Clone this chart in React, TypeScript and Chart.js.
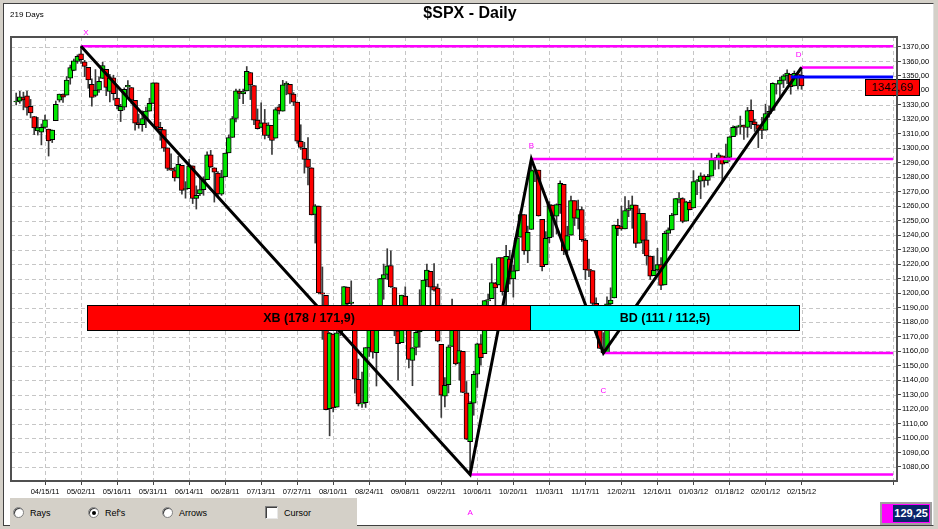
import React, { useEffect, useRef } from "react";
import { Chart, registerables } from "chart.js";
Chart.register(...registerables);

// ---- data (S&P 500 daily, 04/05/11 .. 02/15/12, 219 sessions) ----
const opens = [
  1332.0, 1332.6, 1335.0, 1336.2, 1329.0, 1322.0, 1312.0, 1311.1, 1314.5, 1313.3,
  1306.0, 1319.1, 1333.2, 1337.1, 1336.8, 1348.4, 1353.9, 1360.1, 1365.2, 1359.8,
  1355.9, 1344.2, 1336.5, 1340.2, 1348.3, 1354.5, 1339.4, 1348.7, 1334.8, 1326.1,
  1328.5, 1342.4, 1342.0, 1333.1, 1317.7, 1316.4, 1320.6, 1325.7, 1331.1, 1345.2,
  1314.6, 1312.9, 1300.3, 1286.3, 1284.6, 1279.6, 1288.3, 1271.6, 1272.2, 1287.9,
  1265.5, 1268.6, 1271.5, 1278.4, 1295.5, 1286.6, 1283.0, 1268.4, 1280.2, 1296.9,
  1307.6, 1320.6, 1339.6, 1337.6, 1339.6, 1352.4, 1343.3, 1319.6, 1314.5, 1317.7,
  1308.9, 1315.9, 1307.1, 1328.7, 1325.7, 1343.8, 1344.3, 1337.4, 1331.9, 1304.8,
  1300.1, 1292.6, 1286.6, 1254.3, 1260.2, 1200.3, 1198.5, 1120.2, 1171.8, 1121.3,
  1172.9, 1178.9, 1204.2, 1192.9, 1189.6, 1140.5, 1123.6, 1124.4, 1162.2, 1176.7,
  1158.9, 1177.9, 1209.8, 1213.0, 1219.1, 1203.9, 1173.97, 1165.9, 1198.0, 1185.4,
  1153.5, 1162.6, 1173.3, 1189.4, 1209.2, 1215.0, 1204.5, 1203.6, 1164.6, 1128.8,
  1136.9, 1163.3, 1175.4, 1151.7, 1159.9, 1131.2, 1097.4, 1124.0, 1144.1, 1165.0,
  1158.2, 1194.6, 1196.2, 1207.0, 1205.7, 1224.5, 1200.8, 1223.5, 1209.9, 1215.4,
  1238.7, 1254.2, 1229.2, 1244.0, 1284.4, 1285.0, 1251.0, 1219.6, 1238.3, 1260.8,
  1253.2, 1261.1, 1275.2, 1229.6, 1240.1, 1263.9, 1251.7, 1257.8, 1236.6, 1216.2,
  1215.6, 1193.0, 1187.5, 1161.4, 1158.7, 1192.6, 1196.7, 1246.9, 1246.0, 1244.3,
  1257.2, 1258.1, 1260.9, 1234.5, 1255.1, 1236.8, 1225.7, 1212.1, 1216.1, 1219.7,
  1205.7, 1241.3, 1243.7, 1254.0, 1265.0, 1265.4, 1249.8, 1262.8, 1258.9, 1277.0,
  1277.3, 1280.9, 1277.8, 1280.8, 1292.0, 1292.5, 1294.8, 1290.2, 1293.7, 1308.1,
  1314.5, 1315.3, 1316.0, 1314.4, 1326.3, 1318.3, 1316.2, 1313.5, 1312.5, 1324.2,
  1326.2, 1344.3, 1344.3, 1347.0, 1350.0, 1351.2, 1343.1, 1351.3, 1350.5
];
const highs = [
  1338.2, 1339.4, 1338.8, 1339.5, 1333.8, 1322.0, 1321.4, 1316.8, 1322.9, 1313.3,
  1312.7, 1332.7, 1337.5, 1337.6, 1349.6, 1357.5, 1361.7, 1364.6, 1370.58, 1360.8,
  1355.9, 1348.0, 1354.4, 1349.4, 1359.4, 1354.5, 1351.1, 1350.5, 1343.3, 1330.4,
  1341.8, 1346.8, 1342.0, 1333.1, 1323.7, 1325.9, 1328.5, 1334.6, 1345.2, 1345.2,
  1318.0, 1312.9, 1300.3, 1296.2, 1287.0, 1294.5, 1288.3, 1277.0, 1292.5, 1287.9,
  1274.1, 1279.8, 1280.4, 1297.6, 1298.6, 1286.6, 1283.9, 1284.9, 1296.8, 1309.2,
  1322.0, 1341.0, 1340.9, 1340.9, 1356.5, 1352.4, 1343.3, 1327.2, 1331.5, 1326.9,
  1317.7, 1315.9, 1328.1, 1330.4, 1347.0, 1346.1, 1344.3, 1338.5, 1331.9, 1316.3,
  1304.2, 1307.4, 1286.6, 1261.2, 1260.2, 1218.1, 1198.5, 1172.9, 1171.8, 1186.3,
  1189.0, 1204.5, 1204.2, 1208.5, 1189.6, 1154.5, 1145.5, 1162.4, 1178.6, 1190.7,
  1181.2, 1210.3, 1220.1, 1230.7, 1229.3, 1203.9, 1173.97, 1198.6, 1204.4, 1185.4,
  1162.5, 1176.4, 1202.4, 1209.1, 1220.1, 1215.0, 1220.4, 1206.3, 1164.6, 1141.7,
  1164.2, 1195.9, 1184.7, 1175.1, 1159.9, 1139.0, 1125.1, 1146.1, 1165.6, 1171.4,
  1194.9, 1199.2, 1220.3, 1207.5, 1224.6, 1224.5, 1233.1, 1229.6, 1219.4, 1239.0,
  1256.6, 1254.2, 1246.3, 1292.66, 1287.1, 1285.0, 1251.0, 1242.5, 1263.2, 1260.8,
  1261.7, 1277.6, 1275.2, 1246.2, 1267.0, 1263.9, 1264.3, 1259.6, 1237.7, 1223.5,
  1215.6, 1196.8, 1187.5, 1172.7, 1197.4, 1203.7, 1247.1, 1251.1, 1260.1, 1266.7,
  1264.0, 1267.1, 1260.9, 1258.3, 1255.1, 1249.9, 1225.7, 1225.6, 1231.0, 1224.6,
  1242.8, 1245.1, 1255.2, 1265.4, 1269.4, 1265.9, 1263.5, 1264.1, 1284.6, 1278.7,
  1283.1, 1281.8, 1282.0, 1296.5, 1293.8, 1296.8, 1294.8, 1303.0, 1308.1, 1315.5,
  1315.4, 1322.3, 1316.0, 1328.3, 1333.5, 1320.1, 1316.2, 1321.4, 1330.5, 1329.2,
  1345.3, 1344.4, 1349.2, 1351.0, 1354.3, 1351.2, 1353.4, 1351.3, 1355.9
];
const lows = [
  1330.0, 1331.1, 1326.6, 1322.9, 1321.1, 1309.5, 1309.2, 1302.4, 1313.7, 1294.7,
  1304.0, 1319.1, 1332.0, 1331.7, 1336.8, 1344.3, 1353.6, 1358.7, 1358.6, 1349.5,
  1341.5, 1329.2, 1335.6, 1338.6, 1348.3, 1336.4, 1332.0, 1333.4, 1327.3, 1318.5,
  1326.6, 1336.4, 1330.7, 1312.6, 1313.9, 1311.8, 1314.3, 1325.7, 1331.1, 1313.7,
  1305.6, 1297.9, 1284.7, 1284.7, 1277.4, 1279.6, 1268.3, 1265.6, 1272.2, 1261.9,
  1258.1, 1267.4, 1267.6, 1278.4, 1286.8, 1262.9, 1267.2, 1267.5, 1280.2, 1296.9,
  1307.6, 1318.2, 1334.3, 1330.9, 1339.6, 1333.7, 1316.4, 1313.3, 1314.5, 1306.5,
  1307.4, 1295.9, 1307.1, 1323.7, 1325.7, 1337.0, 1331.1, 1329.6, 1303.5, 1299.2,
  1282.9, 1274.7, 1254.0, 1234.6, 1199.5, 1168.1, 1119.3, 1101.5, 1118.0, 1121.3,
  1170.7, 1178.9, 1180.5, 1184.4, 1131.0, 1122.1, 1121.1, 1121.1, 1156.3, 1155.1,
  1135.9, 1177.9, 1195.8, 1209.4, 1203.9, 1170.6, 1140.1, 1165.9, 1183.3, 1148.4,
  1136.1, 1157.4, 1162.7, 1189.4, 1204.5, 1188.4, 1201.3, 1166.4, 1114.2, 1121.4,
  1131.1, 1163.3, 1150.4, 1139.9, 1131.3, 1098.9, 1074.77, 1115.7, 1134.9, 1150.3,
  1158.2, 1187.3, 1196.2, 1190.6, 1205.7, 1198.6, 1191.5, 1206.3, 1197.3, 1215.4,
  1238.7, 1226.8, 1221.1, 1244.0, 1277.0, 1253.2, 1215.4, 1219.6, 1234.8, 1238.9,
  1240.8, 1255.0, 1226.6, 1227.7, 1240.1, 1246.7, 1244.3, 1235.7, 1209.4, 1211.4,
  1183.2, 1181.7, 1161.8, 1158.66, 1158.7, 1191.8, 1196.7, 1239.7, 1243.4, 1244.3,
  1252.8, 1244.8, 1231.5, 1234.5, 1227.3, 1219.4, 1209.5, 1212.1, 1215.2, 1202.4,
  1205.7, 1229.5, 1243.7, 1254.0, 1262.3, 1248.6, 1249.8, 1257.5, 1258.9, 1268.1,
  1265.3, 1273.3, 1274.6, 1280.8, 1285.4, 1285.8, 1277.6, 1290.2, 1291.0, 1308.1,
  1309.2, 1309.9, 1306.1, 1307.7, 1313.6, 1311.7, 1300.5, 1306.7, 1312.5, 1321.6,
  1326.2, 1337.5, 1335.9, 1342.0, 1344.6, 1337.4, 1343.1, 1340.8, 1340.8
];
const closes = [
  1332.6, 1335.5, 1333.5, 1328.2, 1324.5, 1314.2, 1314.4, 1314.5, 1319.7, 1305.1,
  1312.6, 1330.4, 1337.4, 1335.3, 1347.2, 1355.7, 1360.5, 1363.6, 1361.2, 1356.6,
  1347.3, 1335.1, 1340.2, 1346.3, 1357.2, 1342.1, 1348.7, 1337.8, 1329.5, 1329.0,
  1340.7, 1343.6, 1333.3, 1317.4, 1316.3, 1320.5, 1325.7, 1331.1, 1345.2, 1314.6,
  1312.9, 1300.2, 1286.1, 1284.9, 1279.6, 1289.0, 1271.0, 1271.8, 1287.9, 1265.4,
  1267.6, 1271.5, 1278.4, 1295.5, 1287.1, 1283.5, 1268.5, 1280.1, 1296.7, 1307.4,
  1320.6, 1339.7, 1337.9, 1339.2, 1353.2, 1343.8, 1319.5, 1313.6, 1317.7, 1308.9,
  1316.1, 1305.4, 1326.7, 1325.8, 1343.8, 1345.0, 1337.4, 1331.9, 1304.9, 1300.7,
  1292.3, 1286.9, 1254.1, 1260.3, 1200.1, 1199.4, 1119.5, 1172.5, 1120.8, 1172.6,
  1178.8, 1204.5, 1192.8, 1193.9, 1140.7, 1123.5, 1123.8, 1162.4, 1177.6, 1159.3,
  1176.8, 1210.1, 1212.9, 1218.9, 1204.4, 1174.0, 1165.2, 1198.6, 1185.9, 1154.2,
  1162.3, 1172.9, 1188.7, 1209.1, 1216.0, 1204.1, 1202.1, 1166.8, 1129.6, 1136.4,
  1163.0, 1175.4, 1151.1, 1160.4, 1131.4, 1099.2, 1124.0, 1144.0, 1165.0, 1155.5,
  1194.9, 1195.5, 1207.3, 1203.7, 1224.6, 1200.9, 1225.4, 1209.9, 1215.4, 1238.3,
  1254.2, 1229.1, 1242.0, 1284.6, 1285.1, 1253.3, 1218.3, 1237.9, 1261.2, 1253.2,
  1261.1, 1275.9, 1229.1, 1239.7, 1263.9, 1251.8, 1257.8, 1236.9, 1216.1, 1215.7,
  1193.0, 1188.0, 1161.8, 1158.7, 1192.6, 1195.2, 1247.0, 1244.6, 1244.3, 1257.1,
  1258.5, 1261.0, 1234.4, 1255.2, 1236.5, 1225.7, 1211.8, 1215.8, 1219.7, 1205.4,
  1241.3, 1243.7, 1254.0, 1265.3, 1265.4, 1249.6, 1263.0, 1257.6, 1277.1, 1277.3,
  1281.1, 1277.8, 1280.7, 1292.1, 1292.5, 1295.5, 1289.1, 1293.7, 1308.0, 1314.5,
  1315.4, 1316.0, 1314.7, 1326.1, 1318.4, 1316.3, 1313.0, 1312.4, 1324.1, 1325.5,
  1344.9, 1344.3, 1347.1, 1350.0, 1352.0, 1342.6, 1351.8, 1350.5, 1343.2
];

const dateTickIndex = [8, 18, 28, 38, 48, 58, 68, 78, 88, 98, 108, 118, 128, 138, 148, 158, 168, 178, 188, 198, 208, 218];
const dateTickLabels = [
  "04/15/11", "05/02/11", "05/16/11", "05/31/11", "06/14/11", "06/28/11", "07/13/11", "07/27/11",
  "08/10/11", "08/24/11", "09/08/11", "09/22/11", "10/06/11", "10/20/11", "11/03/11", "11/17/11",
  "12/02/11", "12/16/11", "01/03/12", "01/18/12", "02/01/12", "02/15/12"
];
const priceTicks = [
  1080, 1090, 1100, 1110, 1120, 1130, 1140, 1150, 1160, 1170, 1180, 1190, 1200, 1210, 1220,
  1230, 1240, 1250, 1260, 1270, 1280, 1290, 1300, 1310, 1320, 1330, 1340, 1350, 1360, 1370
];
const pivotNames = ["X", "A", "B", "C", "D"];
const pivotIndex = [18, 126, 143, 163, 218];
const pivotValue = [1370.58, 1074.77, 1292.66, 1158.66, 1355.9];
const legLabels = ["XB (178 / 171,9)", "BD (111 / 112,5)"];
const legBoxColors = ["#ff0000", "#00ffff"];
const lastPrice = 1342.69;
const lastPriceText = "1342,69";
const targetLevel = 1349.2;
const targetStart = 215;
const daysText = "219 Days";
const titleText = "$SPX - Daily";
const footerValue = "129,25";

// ---- layout constants ----
const X_MIN = -1.44;
const X_MAX = 244.5;
const LINE_END = 243.4;
const BOX_LO = 1174.6;
const BOX_HI = 1191.9;
const BOX_EDGES = [19.7, 142.7, 217.2];
const FONT = "'Liberation Sans', Arial, Helvetica, sans-serif";
const GREEN = "#00e600";
const RED = "#ff0000";
const MAGENTA = "#ff00ff";

const fmtPrice = (v: number) => v.toFixed(2).replace(".", ",");

const decor = {
  id: "decor",
  beforeDatasetsDraw(chart: any) {
    const { ctx, chartArea: a, scales } = chart;
    const x = scales.x;
    const y = scales.y;
    ctx.save();
    ctx.strokeStyle = "#c6c6c6";
    ctx.lineWidth = 1;
    ctx.setLineDash([4, 3]);
    ctx.beginPath();
    for (const v of priceTicks) {
      const py = Math.round(y.getPixelForValue(v)) + 0.5;
      ctx.moveTo(a.left, py);
      ctx.lineTo(a.right, py);
    }
    for (const i of [...dateTickIndex, LINE_END]) {
      const px = Math.round(x.getPixelForValue(i)) + 0.5;
      ctx.moveTo(px, a.top);
      ctx.lineTo(px, a.bottom);
    }
    ctx.stroke();
    ctx.restore();
  },
  afterDatasetsDraw(chart: any) {
    const { ctx, chartArea: a, scales } = chart;
    const x = scales.x;
    const y = scales.y;
    ctx.save();
    // ratio boxes
    const yTop = Math.round(y.getPixelForValue(BOX_HI)) + 0.5;
    const yBot = Math.round(y.getPixelForValue(BOX_LO)) + 0.5;
    for (let k = 0; k < legLabels.length; k++) {
      const x1 = Math.round(x.getPixelForValue(BOX_EDGES[k])) + 0.5;
      const x2 = Math.round(x.getPixelForValue(BOX_EDGES[k + 1])) + 0.5;
      ctx.fillStyle = legBoxColors[k];
      ctx.fillRect(x1, yTop, x2 - x1, yBot - yTop);
      ctx.strokeStyle = "#000";
      ctx.lineWidth = 1;
      ctx.strokeRect(x1, yTop, x2 - x1, yBot - yTop);
      ctx.fillStyle = "#000";
      ctx.font = `bold 12.5px ${FONT}`;
      ctx.textAlign = "center";
      ctx.textBaseline = "middle";
      ctx.fillText(legLabels[k], (x1 + x2) / 2, (yTop + yBot) / 2 + 1);
    }
    // pivot names
    ctx.font = `8px ${FONT}`;
    ctx.fillStyle = MAGENTA;
    ctx.textAlign = "center";
    ctx.textBaseline = "middle";
    for (let k = 0; k < pivotNames.length; k++) {
      const ref = k === 0 ? pivotValue[1] : pivotValue[k - 1];
      const above = pivotValue[k] > ref;
      const px = x.getPixelForValue(pivotIndex[k]) + (k === 0 ? 5 : k === 4 ? -3 : 0);
      const py = y.getPixelForValue(pivotValue[k]) + (above ? -13 : 38);
      ctx.fillText(pivotNames[k], px, py);
    }
    // last price tag
    const ly = Math.round(y.getPixelForValue(lastPrice));
    const lx = Math.round(a.right) - 32;
    ctx.fillStyle = RED;
    ctx.fillRect(lx + 0.5, ly - 8 + 0.5, 54, 16);
    ctx.strokeStyle = "#000";
    ctx.lineWidth = 1;
    ctx.strokeRect(lx + 0.5, ly - 8 + 0.5, 54, 16);
    ctx.fillStyle = "#000";
    ctx.font = `11.5px ${FONT}`;
    ctx.textAlign = "center";
    ctx.fillText(lastPriceText, lx + 27.5, ly + 1);
    // plot frame
    ctx.strokeStyle = "#505050";
    ctx.lineWidth = 2;
    ctx.strokeRect(Math.round(a.left), Math.round(a.top), Math.round(a.right - a.left), Math.round(a.bottom - a.top));
    ctx.restore();
  },
};

function buildConfig(): any {
  const idx = closes.map((_, i) => i);
  const wickData = idx.map((i) => ({ x: i, y: [lows[i], highs[i]] }));
  const bodyData = idx.map((i) => ({ x: i, y: [Math.min(opens[i], closes[i]), Math.max(opens[i], closes[i])] }));
  const bodyColors = idx.map((i) => (closes[i] >= opens[i] ? GREEN : RED));
  const pattern = pivotIndex.map((v, k) => ({ x: v, y: pivotValue[k] }));
  const levelSets = pivotIndex.map((v, k) => ({
    type: "line",
    data: [{ x: v, y: pivotValue[k] }, { x: LINE_END, y: pivotValue[k] }],
    borderColor: MAGENTA,
    borderWidth: 2.5,
    pointRadius: 0,
    order: 1,
  }));
  return {
    type: "bar",
    data: {
      datasets: [
        { type: "bar", data: wickData, backgroundColor: "#3a3a3a", barThickness: 1, grouped: false, order: 4 },
        {
          type: "bar",
          data: bodyData,
          backgroundColor: bodyColors,
          borderColor: "#000",
          borderWidth: 1,
          borderSkipped: false,
          barThickness: 5,
          minBarLength: 1,
          grouped: false,
          order: 3,
        },
        ...levelSets,
        {
          type: "line",
          data: [{ x: targetStart, y: targetLevel }, { x: LINE_END, y: targetLevel }],
          borderColor: "#0000ff",
          borderWidth: 3,
          pointRadius: 0,
          order: 0,
        },
        { type: "line", data: pattern, borderColor: "#000", borderWidth: 3, pointRadius: 0, tension: 0, order: 0 },
      ],
    },
    options: {
      animation: false,
      responsive: false,
      devicePixelRatio: 1,
      events: [],
      layout: { autoPadding: false, padding: { left: 11, top: 37, right: 3, bottom: 28 } },
      plugins: { legend: { display: false }, tooltip: { enabled: false }, title: { display: false } },
      scales: {
        x: {
          type: "linear",
          min: X_MIN,
          max: X_MAX,
          offset: false,
          afterBuildTicks: (s: any) => {
            s.ticks = [...dateTickIndex, LINE_END].map((v) => ({ value: v }));
          },
          afterFit: (s: any) => {
            s.height = 20;
          },
          ticks: {
            autoSkip: false,
            maxRotation: 0,
            minRotation: 0,
            padding: 2,
            color: "#000",
            font: { size: 7.5, family: FONT },
            callback: (v: number) => {
              const k = dateTickIndex.indexOf(v);
              return k >= 0 ? dateTickLabels[k] : "";
            },
          },
          grid: { drawOnChartArea: false, drawTicks: true, tickLength: 4, color: "#444", offset: false },
          border: { display: false },
        },
        y: {
          type: "linear",
          position: "right",
          min: 1070.3,
          max: 1376.9,
          afterBuildTicks: (s: any) => {
            s.ticks = priceTicks.map((v) => ({ value: v }));
          },
          afterFit: (s: any) => {
            s.width = 38;
          },
          ticks: {
            padding: 1,
            color: "#000",
            font: { size: 7.5, family: FONT },
            callback: (v: number) => fmtPrice(v),
          },
          grid: { drawOnChartArea: false, drawTicks: true, tickLength: 4, color: "#444" },
          border: { display: false },
        },
      },
    },
    plugins: [decor],
  };
}

function Radio({ left, label, checked }: { left: number; label: string; checked?: boolean }) {
  return (
    <div style={{ position: "absolute", left, top: 506, height: 13, display: "flex", alignItems: "center" }}>
      <div
        style={{
          width: 11,
          height: 11,
          borderRadius: "50%",
          background: "#fff",
          border: "1px solid #808080",
          boxShadow: "inset 1px 1px 0 #404040",
          position: "relative",
          boxSizing: "border-box",
        }}
      >
        {checked ? (
          <div style={{ position: "absolute", left: 3, top: 3, width: 4, height: 4, borderRadius: "50%", background: "#000" }} />
        ) : null}
      </div>
      <span style={{ marginLeft: 6, font: `9px ${FONT}`, color: "#000" }}>{label}</span>
    </div>
  );
}

export default function App() {
  const ref = useRef<HTMLCanvasElement>(null);
  useEffect(() => {
    Chart.defaults.font.family = FONT;
    const chart = new Chart(ref.current as HTMLCanvasElement, buildConfig());
    return () => chart.destroy();
  }, []);
  return (
    <div style={{ position: "fixed", left: 0, top: 0, width: 938, height: 529, background: "#d4d0c8", overflow: "hidden" }}>
      <div
        style={{
          position: "absolute",
          left: 3,
          top: 3,
          width: 931,
          height: 523,
          background: "#fff",
          borderTop: "1px solid #404040",
          borderLeft: "1px solid #404040",
          borderRight: "1px solid #e0e0e0",
          borderBottom: "1px solid #404040",
          boxSizing: "border-box",
        }}
      />
      <div style={{ position: "absolute", left: 10, top: 498, width: 347, height: 28, background: "#d4d0c8" }} />
      <Radio left={13} label="Rays" />
      <Radio left={88} label="Ref's" checked />
      <Radio left={162} label="Arrows" />
      <div style={{ position: "absolute", left: 265, top: 506, height: 13, display: "flex", alignItems: "center" }}>
        <div
          style={{
            width: 13,
            height: 13,
            background: "#fff",
            borderTop: "1px solid #808080",
            borderLeft: "1px solid #808080",
            borderRight: "1px solid #e8e8e8",
            borderBottom: "1px solid #e8e8e8",
            boxShadow: "inset 1px 1px 0 #404040",
            boxSizing: "border-box",
          }}
        />
        <span style={{ marginLeft: 6, font: `9px ${FONT}`, color: "#000" }}>Cursor</span>
      </div>
      <canvas
        ref={ref}
        width={938}
        height={529}
        style={{ position: "absolute", left: 0, top: 0, width: 938, height: 529 }}
      />
      <div style={{ position: "absolute", left: 10, top: 10, font: `8px ${FONT}`, color: "#000" }}>{daysText}</div>
      <div
        style={{
          position: "absolute",
          left: 0,
          top: 4,
          width: 940,
          textAlign: "center",
          font: `bold 16px ${FONT}`,
          color: "#000",
        }}
      >
        {titleText}
      </div>
      <div
        style={{
          position: "absolute",
          left: 880,
          top: 502,
          width: 52,
          height: 23,
          background: MAGENTA,
          border: "2px solid #a0a0a0",
          boxSizing: "border-box",
          display: "flex",
          justifyContent: "flex-end",
          alignItems: "center",
          padding: "0 1px",
        }}
      >
        <span style={{ background: "#0a246a", color: "#fff", font: `bold 11px ${FONT}`, padding: "1px 1px", lineHeight: "15px" }}>
          {footerValue}
        </span>
      </div>
    </div>
  );
}
